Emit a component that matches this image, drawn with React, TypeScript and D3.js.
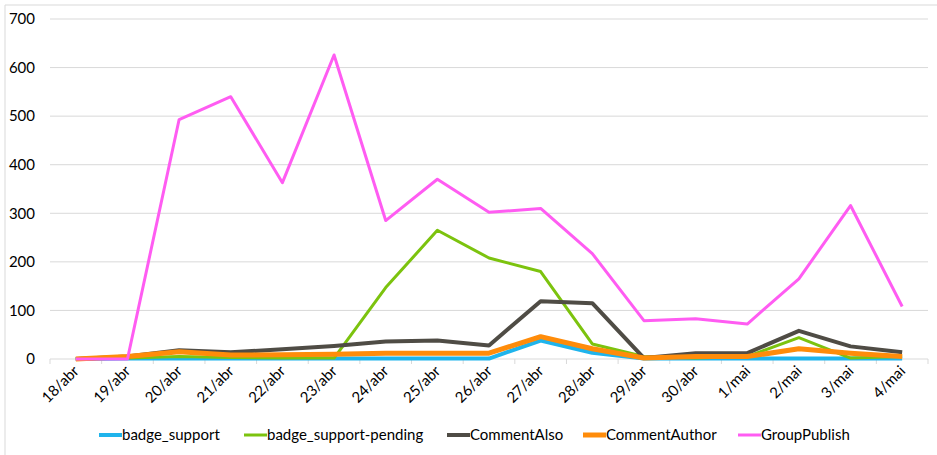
import React from "react";
import * as d3 from "d3";

const categories = ["18/abr","19/abr","20/abr","21/abr","22/abr","23/abr","24/abr","25/abr","26/abr","27/abr","28/abr","29/abr","30/abr","1/mai","2/mai","3/mai","4/mai"];
const badgeSupport = [0,1,1,1,1,1,1,1,1,38,13,1,1,1,1,1,1];
const badgeSupportPending = [0,2,5,3,2,2,147,265,208,180,31,5,2,5,44,2,5];
const commentAlso = [0,5,18,14,20,27,36,38,28,119,115,2,12,12,58,26,14];
const commentAuthor = [0,5,15,8,9,10,12,12,12,46,21,2,5,5,21,12,5];
const groupPublish = [0,0,493,540,363,626,285,370,302,310,217,79,83,72,165,316,108];
const yTicks = [0,100,200,300,400,500,600,700];

const series = [
  { name: "badge_support", values: badgeSupport, color: "#1fb4ec", width: 4 },
  { name: "badge_support-pending", values: badgeSupportPending, color: "#7cc30e", width: 3 },
  { name: "CommentAlso", values: commentAlso, color: "#4f4c45", width: 4 },
  { name: "CommentAuthor", values: commentAuthor, color: "#ff8c0a", width: 5 },
  { name: "GroupPublish", values: groupPublish, color: "#ff5cf2", width: 3 },
];

const legendX = [99, 244, 447, 583, 738];

export default function App() {
  const left = 50, right = 928, top = 19, bottom = 359;
  const x = d3.scaleBand<string>().domain(categories).range([left, right]);
  const y = d3.scaleLinear().domain([0, 700]).range([bottom, top]);
  const line = d3.line<number>()
    .x((_, i) => (x(categories[i]) as number) + x.bandwidth() / 2)
    .y((v) => y(v));
  const font = "Lato, 'Open Sans', sans-serif";
  return (
    <svg width={937} height={455} style={{ position: "absolute", left: 0, top: 0, fontFamily: font }}>
      <rect x={0} y={0} width={937} height={455} fill="#fff" />
      <line x1={5} y1={5} x2={937} y2={5} stroke="#d9d9d9" />
      <line x1={5} y1={5} x2={5} y2={455} stroke="#d9d9d9" />
      {yTicks.map((t) => (
        <g key={t}>
          {t > 0 && <line x1={left} x2={right} y1={y(t)} y2={y(t)} stroke="#d9d9d9" strokeWidth={1} />}
          <text x={35} y={y(t)} dy="0.35em" textAnchor="end" fontSize={15} fill="#000">{t}</text>
        </g>
      ))}
      <line x1={left} x2={right} y1={bottom} y2={bottom} stroke="#d9d9d9" />
      {categories.map((c, i) => (
        <line key={"t" + i} x1={x(c) as number} x2={x(c) as number} y1={bottom} y2={bottom + 5} stroke="#d9d9d9" />
      ))}
      <line x1={right} x2={right} y1={bottom} y2={bottom + 5} stroke="#d9d9d9" />
      {categories.map((c, i) => {
        const cx = (x(c) as number) + x.bandwidth() / 2 + 4;
        const cy = bottom + 13;
        return (
          <text key={"l" + i} x={cx} y={cy} textAnchor="end" fontSize={15} fill="#000" transform={`rotate(-45 ${cx} ${cy})`}>{c}</text>
        );
      })}
      {series.map((s) => (
        <path key={s.name} d={line(s.values) as string} fill="none" stroke={s.color} strokeWidth={s.width} strokeLinejoin="round" />
      ))}
      {series.map((s, i) => (
        <g key={"lg" + i}>
          <line x1={legendX[i]} x2={legendX[i] + 23} y1={435} y2={435} stroke={s.color} strokeWidth={s.width} />
          <text x={legendX[i] + 23} y={435} dy="0.35em" fontSize={15} fill="#000">{s.name}</text>
        </g>
      ))}
    </svg>
  );
}
